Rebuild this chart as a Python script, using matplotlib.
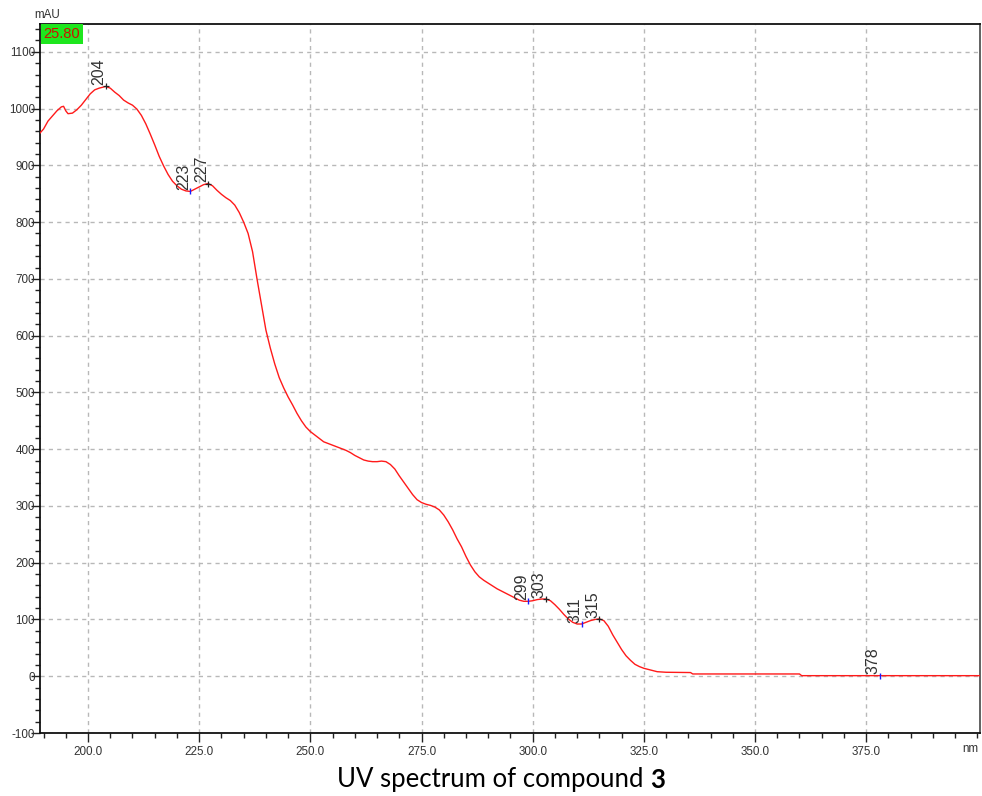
import numpy as np
import matplotlib
matplotlib.use("Agg")
import matplotlib.pyplot as plt
from matplotlib.ticker import MultipleLocator, FixedLocator, FuncFormatter

# UV absorbance spectrum (wavelength in nm, absorbance in mAU)
wavelength = [
    189.2, 190, 191, 192, 193, 194, 194.5, 195, 195.5, 196.5, 197.5, 198.5, 199.5,
    200.5, 201.5, 202.5, 203.5, 204, 205, 206, 207, 208, 209, 210, 211, 212, 213,
    214, 215, 216, 217, 218, 219, 220, 221, 222, 223, 224, 225, 226, 227, 228, 229,
    230, 231, 232, 233, 234, 235, 236, 237, 238, 239, 240, 241, 242, 243, 244, 245,
    246, 247, 248, 249, 250, 251, 252, 253, 254, 255, 256, 257, 258, 259, 260, 261,
    262, 263, 264, 265, 266, 267, 268, 269, 270, 271, 272, 273, 274, 275, 276, 277,
    278, 279, 280, 281, 282, 283, 284, 285, 286, 287, 288, 289, 290, 291, 292, 293,
    294, 295, 296, 297, 298, 299, 300, 301, 302, 303, 304, 305, 306, 307, 308, 309,
    310, 311, 312, 313, 314, 315, 316, 317, 318, 319, 320, 321, 322, 323, 324, 325,
    326, 327, 328, 330, 335.5, 336, 360, 360.5, 378, 400.6,
]
absorbance = [
    957, 964, 978, 987, 996, 1003, 1004, 996, 991, 992, 998, 1006, 1016,
    1026, 1033, 1036, 1038, 1039, 1036, 1029, 1023, 1015, 1010, 1006, 999, 988, 973,
    955, 936, 916, 899, 884, 872, 864, 858, 855, 854, 858, 862, 866, 868, 864, 856,
    849, 843, 838, 830, 817, 800, 780, 748, 700, 655, 610, 578, 550, 526, 508, 492,
    478, 463, 450, 439, 431, 425, 419, 413, 410, 407, 404, 401, 398, 394, 389, 385,
    381, 379, 378, 378, 379, 378, 373, 365, 353, 342, 331, 320, 311, 306, 303, 301,
    298, 293, 284, 272, 258, 242, 228, 211, 196, 184, 175, 169, 164, 159, 154, 150,
    146, 142, 138, 134, 132, 132, 133, 135, 136, 136, 133, 126, 118, 109, 101, 95,
    92, 92, 95, 98, 100, 101, 98, 88, 73, 60, 47, 36, 28, 21, 17, 14,
    12, 10, 8, 7, 6.5, 4, 4, 1, 1, 1,
]

# Annotated extrema (nm) and whether each is a maximum
peak_nm = [204, 223, 227, 299, 303, 311, 315, 378]
peak_is_max = [True, False, True, False, True, False, True, False]

readout = "25.80"
caption_text = "UV spectrum of compound "
caption_bold = "3"

tick_font = ["Liberation Sans Narrow", "Liberation Sans", "DejaVu Sans"]
caption_font = ["Lato", "DejaVu Sans"]

fig = plt.figure(figsize=(9.82, 7.96), dpi=100)
ax = fig.add_axes([40 / 982, 63 / 796, 940 / 982, 709 / 796])

ax.plot(wavelength, absorbance, color="#ff1a1a", lw=1.0, zorder=3)

ax.set_xlim(189.2, 400.6)
ax.set_ylim(-100, 1149)

ax.xaxis.set_major_locator(FixedLocator(np.arange(200, 376, 25)))
ax.xaxis.set_minor_locator(MultipleLocator(5))
ax.xaxis.set_major_formatter(FuncFormatter(lambda v, p: f"{v:.1f}"))
ax.yaxis.set_major_locator(MultipleLocator(100))
ax.yaxis.set_minor_locator(MultipleLocator(20))
ax.yaxis.set_major_formatter(FuncFormatter(lambda v, p: f"{v:.0f}"))

ax.tick_params(axis="both", which="major", direction="out", length=6.5, width=1.0,
               color="#222222", labelsize=8.4, labelcolor="#333333")
ax.tick_params(axis="both", which="minor", direction="out", length=3.6, width=1.0,
               color="#222222")
ax.tick_params(axis="y", which="major", pad=-3)
ax.tick_params(axis="x", which="major", pad=3)
for lab in ax.get_xticklabels() + ax.get_yticklabels():
    lab.set_family(tick_font)

ax.grid(True, which="major", color="#b8b8b8", lw=1.0, linestyle=(0, (3, 3)))
ax.set_axisbelow(True)
for side in ["left", "bottom", "top", "right"]:
    ax.spines[side].set_color("#111111")
    ax.spines[side].set_linewidth(1.3)
ax.spines["right"].set_color("#555555")

# Extremum markers and rotated wavelength labels
for nm, is_max in zip(peak_nm, peak_is_max):
    val = float(np.interp(nm, wavelength, absorbance))
    if is_max:
        ax.plot(nm, val, marker="+", ms=5, mew=0.9, color="#222222", zorder=4)
    else:
        ax.plot(nm, val, marker="|", ms=5, mew=1.0, color="#1a1aff", zorder=4)
    ax.annotate(str(nm), xy=(nm, val), xytext=(0.5, 1.0), textcoords="offset points",
                rotation=90, ha="right", va="bottom", fontsize=11.5,
                color="#333333", family=["Liberation Sans", "DejaVu Sans"], zorder=5)

# Unit labels
ax.annotate("mAU", xy=(0, 1), xycoords="axes fraction", xytext=(-4, 2),
            textcoords="offset points", ha="left", va="bottom", fontsize=8.4,
            color="#333333", family=tick_font)
ax.annotate("nm", xy=(1, 0), xycoords="axes fraction", xytext=(-1.5, -7.5),
            textcoords="offset points", ha="right", va="top", fontsize=8.4,
            color="#333333", family=tick_font)

# Cursor readout box
ax.annotate(readout, xy=(0, 1), xycoords="axes fraction", xytext=(2.5, -2),
            textcoords="offset points", ha="left", va="top", fontsize=10.5,
            color="#cc1100", family=tick_font, zorder=6,
            bbox=dict(boxstyle="square,pad=0.2", fc="#1ee61e", ec="none"))

# Caption with bold compound number, centred as a whole
cap_size = 18.5
cap_y = 8.5 / 796
t1 = fig.text(0, cap_y, caption_text, fontsize=cap_size, family=caption_font,
              ha="left", va="baseline", color="#000000")
t2 = fig.text(0, cap_y, caption_bold, fontsize=cap_size, family=caption_font,
              fontweight="bold", ha="left", va="baseline", color="#000000")
fig.canvas.draw()
renderer = fig.canvas.get_renderer()
w1 = t1.get_window_extent(renderer=renderer).width
w2 = t2.get_window_extent(renderer=renderer).width
x0 = 501.5 - (w1 + w2) / 2
t1.set_x(x0 / fig.bbox.width)
t2.set_x((x0 + w1) / fig.bbox.width)

fig.savefig("out.png", dpi=100)
